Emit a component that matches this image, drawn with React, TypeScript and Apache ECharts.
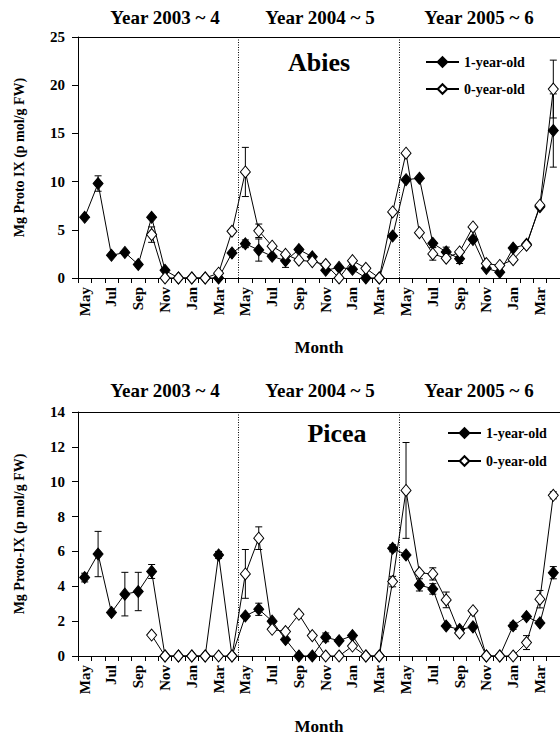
import React, { useEffect, useRef } from 'react';
import * as echarts from 'echarts';

// Month sequence of one sampling season (May → April)
const monthNames = ['May', 'Jun', 'Jul', 'Aug', 'Sep', 'Oct', 'Nov', 'Dec', 'Jan', 'Feb', 'Mar', 'Apr'];
const seasons = ['2003', '2004', '2005'];
const yearLabels = ['Year 2003 ~ 4', 'Year 2004 ~ 5', 'Year 2005 ~ 6'];
const seriesNames = ['1-year-old', '0-year-old'];
const speciesNames = ['Abies', 'Picea'];
const yAxisTitles = ['Mg Proto IX (p mol/g FW)', 'Mg Proto-IX (p mol/g FW)'];
const xAxisTitle = 'Month';

// Abies — Mg Proto IX (pmol/g FW), mean and error
const abiesOld = [6.3, 9.8, 2.35, 2.65, 1.4, 6.3, 0.8, 0, 0, 0, 0, 2.6,
  3.55, 2.9, 2.25, 1.8, 2.95, 2.2, 0.8, 1.1, 0.9, 0, 0, 4.35,
  10.2, 10.35, 3.6, 2.7, 2.0, 4.0, 1.0, 0.6, 3.1, 3.5, 7.4, 15.3];
const abiesOldErr = [0, 0.8, 0, 0, 0, 0, 0, 0, 0, 0, 0, 0,
  0.4, 1.15, 0, 0.7, 0, 0, 0, 0, 0, 0, 0, 0,
  0, 0, 0, 0.5, 0.5, 0, 0, 0, 0, 0, 0, 3.8];
const abiesNew = [null, null, null, null, null, 4.5, 0, 0, 0, 0, 0.5, 4.85,
  11.0, 4.9, 3.3, 2.45, 1.85, 1.7, 1.4, 0, 1.8, 1.0, 0, 6.85,
  12.95, 4.7, 2.5, 2.05, 2.7, 5.3, 1.5, 1.3, 1.9, 3.4, 7.55, 19.6];
const abiesNewErr = [0, 0, 0, 0, 0, 0.8, 0, 0, 0, 0, 0, 0,
  2.55, 0.7, 0, 0, 0, 0, 0, 0, 0, 0, 0, 0,
  0, 0, 0.65, 0, 0, 0, 0, 0, 0, 0, 0, 3.0];

// Picea — Mg Proto-IX (pmol/g FW), mean and error
const piceaOld = [4.5, 5.85, 2.5, 3.55, 3.7, 4.85, 0, 0, 0, 0, 5.8, 0,
  2.3, 2.68, 2.0, 0.95, 0, 0, 1.07, 0.88, 1.17, 0, 0, 6.18,
  5.8, 4.08, 3.85, 1.72, 1.52, 1.67, 0, 0, 1.73, 2.26, 1.9, 4.78];
const piceaOldErr = [0.25, 1.3, 0, 1.25, 1.1, 0.4, 0, 0, 0, 0, 0.2, 0,
  0, 0.35, 0, 0, 0, 0, 0.25, 0, 0, 0, 0, 0.2,
  0, 0.35, 0.3, 0, 0, 0, 0, 0, 0.2, 0, 0, 0.35];
const piceaNew = [null, null, null, null, null, 1.2, 0, 0, 0, 0, 0, 0,
  4.71, 6.76, 1.53, 1.4, 2.39, 1.17, 0, 0, 0.57, 0, 0, 4.27,
  9.5, 4.77, 4.71, 3.22, 1.32, 2.6, 0, 0, 0, 0.77, 3.26, 9.22];
const piceaNewErr = [0, 0, 0, 0, 0, 0, 0, 0, 0, 0, 0, 0,
  1.4, 0.65, 0, 0, 0, 0, 0, 0, 0, 0, 0, 0.3,
  2.75, 0, 0.35, 0.45, 0, 0, 0, 0, 0, 0.4, 0.5, 0.2];

const yMax = [25, 14];
const yStep = [5, 2];

const FONT = "'Liberation Serif', 'Times New Roman', serif";
const categories = seasons.flatMap((y) => monthNames.map((m) => `${m} ${y}`));

const errorData = (vals: (number | null)[], errs: number[]) =>
  vals
    .map((v, i) => (v == null || !errs[i] ? null : [i, v - errs[i], v + errs[i]]))
    .filter((d) => d !== null);

const renderErrorBar = (params: any, api: any) => {
  const x = api.value(0);
  const lo = api.coord([x, api.value(1)]);
  const hi = api.coord([x, api.value(2)]);
  const w = 3.5;
  const style = { stroke: '#000', lineWidth: 1 };
  return {
    type: 'group',
    children: [
      { type: 'line', shape: { x1: lo[0], y1: lo[1], x2: hi[0], y2: hi[1] }, style },
      { type: 'line', shape: { x1: hi[0] - w, y1: hi[1], x2: hi[0] + w, y2: hi[1] }, style },
      { type: 'line', shape: { x1: lo[0] - w, y1: lo[1], x2: lo[0] + w, y2: lo[1] }, style },
    ],
  };
};

const boldText = (size: number) => ({
  fontFamily: FONT,
  fontWeight: 'bold' as const,
  fontSize: size,
  color: '#000',
});

export default function App() {
  const ref = useRef<HTMLDivElement>(null);

  useEffect(() => {
    if (!ref.current) return;
    const chart = echarts.init(ref.current, undefined, { renderer: 'svg' });

    const panels = [
      { old: abiesOld, oldErr: abiesOldErr, young: abiesNew, youngErr: abiesNewErr },
      { old: piceaOld, oldErr: piceaOldErr, young: piceaNew, youngErr: piceaNewErr },
    ];
    const grids = [
      { left: 78, top: 37, width: 485, height: 241 },
      { left: 78, top: 412, width: 485, height: 244 },
    ];
    const monthNameGap = [61, 62];

    const xAxes: any[] = [];
    const yAxes: any[] = [];
    const series: any[] = [];

    panels.forEach((p, g) => {
      xAxes.push({
        type: 'category',
        gridIndex: g,
        data: categories,
        boundaryGap: true,
        name: xAxisTitle,
        nameLocation: 'middle',
        nameGap: monthNameGap[g],
        nameTextStyle: boldText(17),
        axisLine: { show: true, lineStyle: { color: '#000', width: 1 } },
        axisTick: { show: true, interval: 0, length: 5, lineStyle: { color: '#000' } },
        axisLabel: {
          interval: 1,
          rotate: 90,
          margin: 9,
          ...boldText(15),
          formatter: (v: string) => v.split(' ')[0],
        },
        splitLine: { show: false },
      });
      // month-scale helper axis: top frame and dotted season dividers
      xAxes.push({
        type: 'value',
        gridIndex: g,
        position: 'top',
        min: 0,
        max: 36,
        interval: 12,
        axisLine: { show: true, onZero: false, lineStyle: { color: '#000', width: 1 } },
        axisTick: { show: false },
        axisLabel: { show: false },
        splitLine: { show: true, lineStyle: { color: '#000', width: 1, type: [1, 1.5] } },
      });
      yAxes.push({
        type: 'value',
        gridIndex: g,
        min: 0,
        max: yMax[g],
        interval: yStep[g],
        name: yAxisTitles[g],
        nameLocation: 'middle',
        nameGap: 52,
        nameRotate: 90,
        nameTextStyle: boldText(14),
        axisLine: { show: true, lineStyle: { color: '#000', width: 1 } },
        axisTick: { show: true, length: 6, lineStyle: { color: '#000' } },
        axisLabel: { margin: 13, ...boldText(15) },
        splitLine: { show: false },
      });

      const xi = g * 2;
      series.push({
        type: 'custom',
        name: `${seriesNames[0]} error`,
        xAxisIndex: xi,
        yAxisIndex: g,
        renderItem: renderErrorBar,
        encode: { x: 0, y: [1, 2] },
        data: errorData(p.old, p.oldErr),
        z: 1,
      });
      series.push({
        type: 'custom',
        name: `${seriesNames[1]} error`,
        xAxisIndex: xi,
        yAxisIndex: g,
        renderItem: renderErrorBar,
        encode: { x: 0, y: [1, 2] },
        data: errorData(p.young, p.youngErr),
        z: 1,
      });
      series.push({
        type: 'line',
        name: seriesNames[0],
        xAxisIndex: xi,
        yAxisIndex: g,
        data: p.old,
        symbol: 'diamond',
        symbolSize: [10, 12],
        showSymbol: true,
        showAllSymbol: true,
        lineStyle: { color: '#000', width: 1 },
        itemStyle: { color: '#000', borderColor: '#000', borderWidth: 1 },
        z: 2,
      });
      series.push({
        type: 'line',
        name: seriesNames[1],
        xAxisIndex: xi,
        yAxisIndex: g,
        data: p.young,
        symbol: 'diamond',
        symbolSize: [10, 12],
        showSymbol: true,
        showAllSymbol: true,
        lineStyle: { color: '#000', width: 1 },
        itemStyle: { color: '#fff', borderColor: '#000', borderWidth: 1 },
        z: 3,
      });
    });

    const yearCenters = [165, 320, 479];
    const graphic: any[] = [];
    [17, 390].forEach((y) => {
      yearLabels.forEach((t, i) => {
        graphic.push({
          type: 'text',
          x: yearCenters[i],
          y,
          style: { text: t, ...boldText(19), fill: '#000', align: 'center', verticalAlign: 'middle' },
        });
      });
    });
    [[319, 62], [337, 433]].forEach(([x, y], i) => {
      graphic.push({
        type: 'text',
        x,
        y,
        style: { text: speciesNames[i], ...boldText(26), fill: '#000', align: 'center', verticalAlign: 'middle' },
      });
    });

    const legendBase = {
      data: seriesNames,
      orient: 'vertical',
      itemWidth: 33,
      itemHeight: 12,
      textStyle: boldText(14),
      selectedMode: false,
    };

    chart.setOption({
      animation: false,
      backgroundColor: '#fff',
      grid: grids,
      xAxis: xAxes,
      yAxis: yAxes,
      series,
      graphic,
      legend: [
        { ...legendBase, left: 420, top: 50, itemGap: 13 },
        { ...legendBase, left: 442, top: 421, itemGap: 14 },
      ],
    });

    return () => chart.dispose();
  }, []);

  return (
    <div
      ref={ref}
      style={{ position: 'absolute', left: 0, top: 0, width: 560, height: 740, background: '#fff' }}
    />
  );
}
